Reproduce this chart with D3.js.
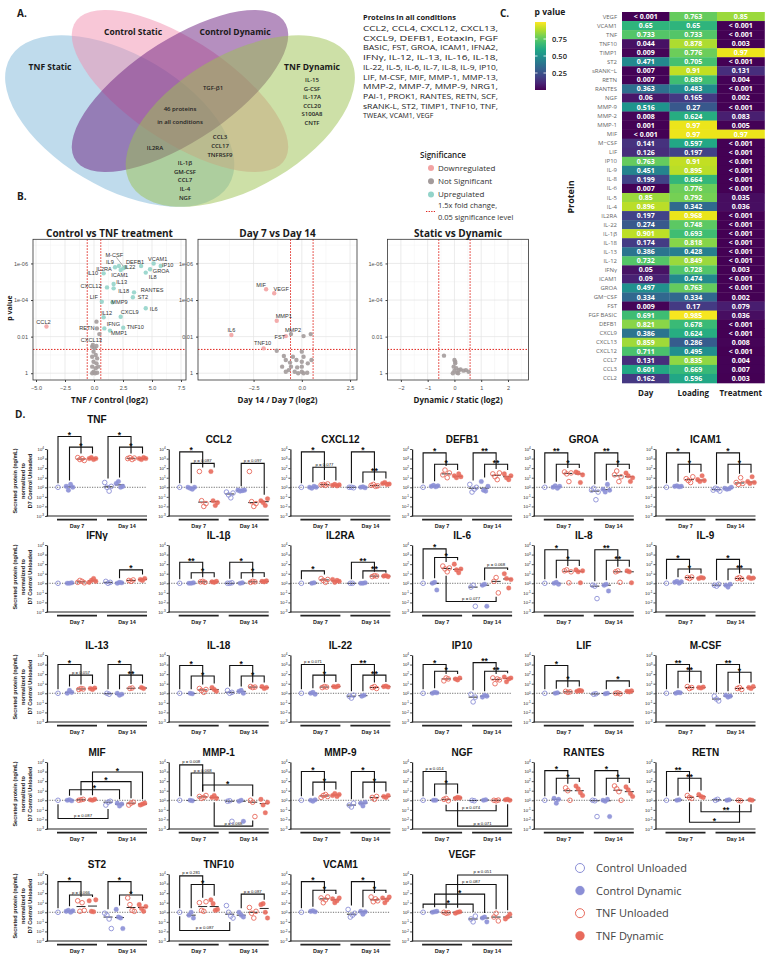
<!DOCTYPE html>
<html>
<head>
<meta charset="utf-8">
<script src="https://cdn.jsdelivr.net/npm/d3@7"></script>
<style>
body { margin: 0; background: #fff; }
text { font-family: "Open Sans", "Noto Sans", sans-serif; }
.arial text, text.arial { font-family: "Liberation Sans", Arial, sans-serif; }
</style>
</head>
<body>
<svg id="fig" width="780" height="973"></svg>
<script>
// ---------------- data ----------------
// A. venn
var vennSets = ["TNF Static", "Control Static", "Control Dynamic", "TNF Dynamic"];
var vennTnfDynOnly = ["IL-15", "G-CSF", "IL-17A", "CCL20", "S100A8", "CNTF"];
var vennTnfBoth = ["IL-1β", "GM-CSF", "CCL7", "IL-4", "NGF"];
var vennNotTnfStatic = ["CCL3", "CCL17", "TNFRSF9"];
var vennAllCount = 46;
var allConditionLines = ["CCL2, CCL4, CXCL12, CXCL13,", "CXCL9, DEFB1, Eotaxin, FGF",
  "BASIC, FST, GROA, ICAM1, IFNA2,", "IFNγ, IL-12, IL-13, IL-16, IL-18,",
  "IL-22, IL-5, IL-6, IL-7, IL-8, IL-9, IP10,", "LIF, M-CSF, MIF, MMP-1, MMP-13,",
  "MMP-2, MMP-7, MMP-9, NRG1,", "PAI-1, PROK1, RANTES, RETN, SCF,",
  "sRANK-L, ST2, TIMP1, TNF10, TNF,", "TWEAK, VCAM1, VEGF"];

// C. heatmap (0 = "< 0.001")
var hmProteins = ["VEGF","VCAM1","TNF","TNF10","TIMP1","ST2","sRANK\u2212L","RETN","RANTES","NGF",
  "MMP-9","MMP-2","MMP-1","MIF","M\u2212CSF","LIF","IP10","IL-9","IL-8","IL-6","IL-5","IL-4","IL2RA",
  "IL-22","IL-1β","IL-18","IL-13","IL-12","IFNγ","ICAM1","GROA","GM\u2212CSF","FST","FGF BASIC",
  "DEFB1","CXCL9","CXCL13","CXCL12","CCL7","CCL3","CCL2"];
var hmFactors = ["Day", "Loading", "Treatment"];
var hmDay = [0,0.65,0.733,0.044,0.009,0.471,0.007,0.007,0.363,0.06,0.516,0.008,0.001,0,0.141,0.126,
  0.763,0.451,0.199,0.007,0.85,0.896,0.197,0.274,0.901,0.174,0.386,0.732,0.05,0.09,0.497,0.334,0.009,
  0.691,0.821,0.386,0.859,0.711,0.131,0.601,0.162];
var hmLoading = [0.763,0.65,0.733,0.878,0.776,0.705,0.91,0.689,0.483,0.165,0.27,0.624,0.97,0.97,0.597,
  0.197,0.91,0.895,0.664,0.776,0.792,0.342,0.968,0.748,0.693,0.818,0.428,0.849,0.728,0.474,0.763,0.334,
  0.17,0.985,0.678,0.624,0.286,0.495,0.835,0.669,0.596];
var hmTreatment = [0.85,0,0,0.003,0.97,0,0.131,0.004,0,0.002,0,0.083,0.005,0.97,0,0,0,0,0,0,0.035,
  0.036,0,0,0,0,0,0,0.003,0,0,0.002,0.079,0.036,0,0,0.008,0,0.004,0.007,0.003];
var pLegendTicks = [0.25, 0.5, 0.75];

// B. volcano plots (log2 fold change, -log10 p)
var v1Names = ["CCL2","IL2RA","IL9","M-CSF","IL22","DEFB1","VCAM1","IP10","GROA","IL8","ICAM1","IL10",
  "IL13","CXCL12","IL18","RANTES","ST2","LIF","MMP9","IL6","CXCL9","IL12","","RETN","IFNG","TNF10",
  "MMP1","CXCL13"];
var v1FC = [-4.10,1.81,2.15,2.52,2.67,4.06,5.14,5.75,4.83,4.46,2.30,0.83,1.69,1.12,1.69,3.45,3.35,0.67,
  1.59,4.46,2.30,0.83,0.21,0.25,0.89,2.52,1.38,0.46,
  -0.16,0.05,0.21,-0.04,0.15,-0.16,0.27,-0.04,0.21,-0.16,0.15,-0.04,0.27,-0.16,0.09,0.36,-0.10];
var v1LogP = [2.55,5.79,5.86,5.74,5.79,5.86,6.0,5.86,5.68,5.5,5.64,5.46,4.88,4.69,4.64,4.42,4.15,3.91,
  3.88,3.55,3.09,3.06,2.82,2.45,2.45,2.49,2.33,2.14,
  1.45,1.36,1.49,1.18,1.0,0.9,0.81,0.63,0.54,0.36,0.27,0.08,0.03,0.0,0.0,0.36,1.54];
var v2Names = ["MIF","VEGF","MMP1","IL6","FST","MMP2","TNF10"];
var v2FC = [-1.85,-1.43,-1.30,-3.65,-0.83,-0.56,-1.98,-1.30,0.09,0.46,
  -0.93,-0.83,-0.61,-0.28,0,0.09,0,0.31,0.5,-0.56,-0.24,0,-0.68,-0.37,0,0.28,-0.83,0.09,-0.19,-1.02,-0.46];
var v2LogP = [4.59,4.37,2.87,2.09,2.03,2.14,1.36,1.23,2.03,2.14,
  0.94,0.72,0.58,0.72,1.18,0.9,0.63,0.54,0.72,0.36,0.32,0.36,0.17,0.08,0.08,0.03,0.08,0.0,0.0,0.36,0.9];
var v3FC = [-0.39,0.0,0.03,-0.03,0.07,0.0,0.1,-0.06,0.16,0.23,0.34,0.43,0.53,0.03,0.14];
var v3LogP = [0.96,0.72,0.54,0.36,0.27,0.14,0.03,0.0,0.17,0.2,0.14,0.17,0.08,0.63,0.0];
var sigLegend = ["Downregulated", "Not Significant", "Upregulated"];

// D. secreted proteins, log10 of value normalised to D7 control unloaded
// groups: D7 CU, CD, TU, TD, D14 CU, CD, TU, TD
var dGroups = ["Control Unloaded", "Control Dynamic", "TNF Unloaded", "TNF Dynamic"];
var dDays = ["Day 7", "Day 14"];
var dNames = ["TNF","CCL2","CXCL12","DEFB1","GROA","ICAM1",
  "IFNγ","IL-1β","IL2RA","IL-6","IL-8","IL-9",
  "IL-13","IL-18","IL-22","IP10","LIF","M-CSF",
  "MIF","MMP-1","MMP-9","NGF","RANTES","RETN",
  "ST2","TNF10","VCAM1","VEGF"];
var dVals = [
  [[0],[0.1,-0.3,0.3,0],[3.1,2.9,3.0,2.8],[3.0,3.1,2.9,3.0],[0.5,0,-0.4,0.1],[0.4,0.6,0,0.1],[3.0,3.1,2.9,3.05],[3.0,2.9,3.1,3.0]],
  [[0],[0,-0.1,-0.2,0],[1.65,-1.4,-2.0,-1.7],[1.65,-1.4,-1.9,-1.6],[-0.5,-0.8,-1.1,-0.6],[-0.3,-0.4,-0.35,-0.3],[1.65,-1.5,-2.0,-1.7],[-1.4,-1.6,-1.9,-1.2]],
  [[0],[0,-0.1,0.1,0],[0.25,0.3,0.2,0.35],[0.2,0.3,0.15,0.25],[0,0,-0.05],[0,0.05,-0.05],[0.2,0.3,0.1,0.15],[0.4,0.5,0.3,0.35]],
  [[0],[0.1,0.2,0.05,0.15],[1.3,1.8,1.0,1.5],[1.2,1.0,1.4,1.1],[0.3,-0.5,-0.2,0],[0.6,-0.3,-0.4,0.1],[1.4,1.1,0.8,1.5],[1.4,1.0,0.8,1.2]],
  [[0],[0,0.15,-0.1,0.1],[1.6,1.4,0.6,1.5],[1.6,1.5,0.5,1.3],[-0.3,-0.1,-1.3,-0.5],[-0.2,-0.5,0.3,-0.3],[1.3,1.7,0.6,1.1],[1.5,1.2,0.6,1.0]],
  [[0],[0.1,0.15,0.05,0.1],[0.9,0.7,0.5,1.1],[0.8,0.6,1.2,0.7],[-0.3,-0.1,-0.2,-0.4],[-0.1,-0.2,-0.15,0],[0.5,0.3,1.0,0.4],[0.6,0.4,1.1,0.5]],
  [[0],[0,0,0.05],[0.1,0.3,0.2,0.05],[0.1,0.3,0.5,0.2],[0.2,0,0.1],[0,0.1,0.05],[0.3,0.2,0.35],[0.4,0.3,0.5]],
  [[0],[0,0,0.05],[0.15,0.2,0.1],[0.15,0.1,0.2],[0,0,0.05],[0,0.05],[0.1,0.2,0.15],[0.2,0.15,0.25]],
  [[0],[0,0.05],[0.5,0.3,0.1,0.4],[0.4,0.1,0.3,0.2],[0,0],[0,0,0.05],[0.7,0.8,0.75],[0.75,0.8,0.7]],
  [[0],[0,0.1,-0.7],[1.8,1.5,1.2,1.6],[2.0,1.4,1.1,1.5],[-0.4,-0.2,-2.4],[-0.2,-0.1,-2.4],[0.2,0.6,-1.0],[1.0,0.5,-0.5,0.4]],
  [[0],[0,0.1,-0.1],[1.3,1.4,0.05,1.2],[1.4,1.2,0.05,1.3],[-0.2,-0.3,-1.6],[-0.2,-0.1,-0.8],[1.2,1.3,0.1],[1.3,1.2,0.05]],
  [[0],[0.1,0.2,0,0.15],[0.6,0.5,0.65],[0.5,0.6,0.55],[-0.2,-0.3,-0.1],[-0.2,-0.4,-0.1],[0.5,0.6,0.45],[0.6,0.5,0.55]],
  [[0],[0,0.3,0.1],[0.4,0.5,0.45],[0.5,0.4,0.55],[0,-0.1],[0,-0.2,-0.1],[0.5,0.55],[0.6,0.5]],
  [[0],[0,-0.05],[0.5,0.3,0.1,0.4],[0.6,0.4,0.2],[0.3,0,0.1],[0.2,0.3,0],[0.7,0.6,0.65],[0.7,0.5,0.6]],
  [[0],[0,0.1,-0.1],[0.6,0.7,0.65],[0.7,0.65,0.75],[-0.3,-0.5,-0.2],[-0.3,-0.2],[0.6,0.7,0.5],[0.7,0.75,0.65]],
  [[0],[0,0.1,0.05],[1.3,1.6,1.5],[1.5,1.4,1.6],[-0.1,-0.9,-0.4],[-0.4,-0.2,-0.3],[1.6,1.0,1.5,1.4],[1.7,1.2,1.5,1.6]],
  [[0],[0,0.05],[0.2,0.1,0.15],[0.2,0.3,0.25],[-0.1,-0.05],[-0.05,0],[0,0.05,-0.05],[0.2,0.15,0.25]],
  [[0],[0,0.1,0.05],[0.7,0.5,0.6],[0.6,0.55,0.65],[-0.3,-0.6,-0.8],[-0.2,-0.4,-0.3],[0.5,0.6,0.4],[0.6,0.5,0.7]],
  [[0],[0,0.05,-0.05],[0,0.05,0.1],[0.05,0,0.1],[-0.5,-0.2,-0.1],[-0.3,-0.6,-0.4],[-0.5,-0.3,-0.2],[-0.5,-0.4,-0.3]],
  [[0],[0,-0.05],[0.4,0.2,0.3,0.5],[0.3,0.5,0.2],[-0.1,-0.05,-2.2],[-0.1,0,-2.2],[0,-0.2,-1.7],[0.1,-0.5,-1.3,-0.2]],
  [[0],[0,-0.1,0.05],[0.3,0.5,0.6,0.4],[0.5,0.7,0.4,0.6],[-0.5,-0.7,-0.3],[-0.3,-0.6,-0.2],[0.3,0.1,0.4],[0.4,0.3,0.5]],
  [[0],[0,0],[0.1,0.2,-0.05],[0.2,0.3,0.25],[0,-0.05],[0,0.05],[0,-0.05,0.02],[0.05,0.1,0]],
  [[0],[0.2,-0.3,0.1],[1.3,1.0,0],[1.5,1.2,0.8,0.5],[0,-0.05,-1.7],[0,-0.1,0.1,-1.7],[1.5,1.2,0.9,0],[1.4,1.1,0.7,0.4]],
  [[0],[0,0.05],[0.5,0.3,0.2],[0.6,0.4,0.3],[0,0.1],[0,0.05],[0,-0.05],[0.05,0]],
  [[0],[0.1,0.2,0,0.15],[1.2,0.1,1.0,0.2],[1.2,0.1,0.05,1.3],[-0.1,-0.3,-0.7,-1.7],[0.3,-0.5,-0.6,-1.7],[1.5,0.8,0.2,0.1],[0.8,0.4,0.1,0.6]],
  [[0],[-0.3,0,-0.6],[1.0,0.2,0.1,1.1],[1.3,0.9,0.2,0.3],[0.7,0,-0.4,-0.6],[0,-0.3,-0.5],[0.5,-0.1,-0.6,0.1],[0.8,0.9,0,-0.6]],
  [[0],[0.1,0.15,0.05],[1.5,1.0,1.3,1.6],[1.4,1.0,1.2,1.5],[0.3,-0.5,-0.3,-0.1],[0.1,-0.2,0.05],[1.6,1.1,1.4,1.2],[1.5,1.0,1.3,1.6]],
  [[0],[0,0.05,0.1],[0,-0.1,-0.05],[-0.1,0,0.05],[-0.7,-1.0,-0.4],[-0.6,-0.5,-1.0],[-0.5,-0.1,-0.9],[-0.7,-0.5,-0.2]]
];
// brackets: [from group, to group, log10 level, label]; negative level = drawn below the data
var dBrackets = [
  [[0,2,5.3,"*"],[1,3,4.2,"*"],[4,6,5.3,"*"],[5,7,4.2,"*"]],
  [[0,2,3.7,"*"],[1,3,2.5,"p = 0.087"],[5,7,2.5,"p = 0.097"]],
  [[0,2,3.7,"*"],[1,3,2.1,"p = 0.077"],[4,6,3.7,"*"],[5,7,1.6,"**"]],
  [[0,2,3.6,"*"],[1,3,2.4,"*"],[4,6,3.6,"**"],[5,7,2.4,"**"]],
  [[0,2,3.6,"**"],[1,3,2.4,"*"],[4,6,3.6,"**"],[5,7,2.4,"*"]],
  [[0,2,3.6,"*"],[1,3,2.4,"*"],[4,6,3.6,"*"],[5,7,2.4,"*"]],
  [[5,7,1.4,"*"]],
  [[0,2,2.2,"**"],[1,3,1.1,"*"],[4,6,2.2,"*"],[5,7,1.1,"*"]],
  [[0,2,1.3,"*"],[4,6,2.2,"**"],[5,7,1.3,"**"]],
  [[0,2,3.6,"*"],[1,3,2.7,"*"],[5,7,1.6,"p = 0.068"],[2,6,-1.9,"p = 0.077"]],
  [[0,2,3.5,"*"],[1,3,2.4,"*"],[4,6,3.5,"**"],[5,7,2.4,"**"]],
  [[0,2,2.5,"*"],[1,3,1.5,"*"],[4,6,2.5,"*"],[5,7,1.5,"**"]],
  [[0,2,3.0,"*"],[1,3,1.9,"p = 0.057"],[4,6,3.0,"*"],[5,7,1.9,"**"]],
  [[0,2,2.9,"*"],[1,3,1.8,"*"],[4,6,2.9,"*"],[5,7,1.8,"*"]],
  [[0,2,3.0,"p = 0.071"],[1,3,1.9,"*"],[4,6,3.0,"**"],[5,7,1.9,"**"]],
  [[0,2,3.0,"*"],[1,3,2.3,"*"],[4,6,3.2,"**"],[5,7,2.3,"**"]],
  [[0,2,2.9,"*"],[1,3,1.3,"*"],[5,7,1.3,"*"]],
  [[0,2,3.0,"**"],[1,3,2.3,"**"],[4,6,3.0,"**"],[5,7,2.2,"*"]],
  [[1,5,1.1,"*"],[2,6,1.95,"*"],[3,7,2.95,"*"],[0,4,-1.9,"p = 0.087"]],
  [[0,2,3.7,"p = 0.008"],[1,3,2.85,"p = 0.068"],[2,6,1.6,"*"],[3,6,-2.7,"p = 0.068"]],
  [[0,2,3.0,"*"],[1,3,1.9,"*"],[4,6,3.0,"*"],[5,7,1.9,"*"]],
  [[0,2,3.0,"p = 0.014"],[1,3,1.7,"*"],[2,6,-1.1,"p = 0.074"],[3,7,-2.7,"p = 0.071"]],
  [[0,2,3.1,"*"],[1,3,2.3,"*"],[4,6,3.1,"*"],[5,7,2.3,"*"]],
  [[0,2,3.0,"**"],[1,3,2.3,"**"],[3,7,-1.2,"**"],[2,6,-2.3,"*"]],
  [[0,2,3.2,"*"],[1,3,1.8,"p = 0.066"],[4,6,3.2,"*"],[5,7,1.8,"*"]],
  [[0,2,3.8,"p = 0.281"],[1,3,2.9,"*"],[5,7,1.9,"p = 0.087"],[0,4,-1.9,"p = 0.087"]],
  [[0,2,3.2,"*"],[1,3,2.3,"*"],[4,6,3.2,"*"],[5,7,2.3,"*"]],
  [[0,4,0.85,"*"],[1,5,1.9,"*"],[2,6,2.9,"p = 0.087"],[3,7,3.9,"p = 0.051"]]
];

// ---------------- drawing ----------------
var svg = d3.select("#fig");

function label(txt, x, y, size, weight, anchor, fill) {
  return svg.append("text").attr("x", x).attr("y", y).attr("font-size", size)
    .attr("font-weight", weight || "normal").attr("text-anchor", anchor || "start")
    .attr("fill", fill || "#1a1a1a").text(txt);
}

label("A.", 17, 17, 10, "bold");
label("B.", 17, 200, 10, "bold");
label("C.", 500, 17, 10, "bold");
label("D.", 15, 418, 10, "bold");

// ---- A. venn (ellipse layout of a 4-set venn, unit square) ----
var vennColors = ["#7fb8d9", "#f190b0", "#6c1f80", "#9cc150"];
var ell = [[0.35,0.47,0.35,0.2,135],[0.5,0.57,0.35,0.15,135],[0.5,0.57,0.35,0.15,45],[0.65,0.47,0.35,0.2,45]];
var venn = svg.append("g").attr("transform", "translate(-21," + (10 + 0.839 * 301) + ") scale(402,-301)");
venn.selectAll("ellipse").data(ell).enter().append("ellipse")
  .attr("cx", function(d) { return d[0]; })
  .attr("cy", function(d) { return d[1]; })
  .attr("rx", function(d) { return d[2]; })
  .attr("ry", function(d) { return d[3]; })
  .attr("transform", function(d) { return "rotate(" + d[4] + " " + d[0] + " " + d[1] + ")"; })
  .attr("fill", function(d, i) { return vennColors[i]; })
  .attr("fill-opacity", 0.5);

var setPos = [[50, 70], [133, 35], [235, 35], [312, 70]];
vennSets.forEach(function(s, i) { label(s, setPos[i][0], setPos[i][1], 8.5, "bold", "middle"); });
function stack(list, x, y0, dy) {
  list.forEach(function(s, i) { label(s, x, y0 + i * dy, 6, 600, "middle", "#222"); });
}
stack(vennTnfDynOnly, 312, 82, 8.6);
stack(vennTnfBoth, 185, 165, 8.7);
stack(vennNotTnfStatic, 220, 139, 9);
stack(["TGF-β1"], 213, 90, 0);
stack(["IL2RA"], 155, 150, 0);
stack([vennAllCount + " proteins", "in all conditions"], 180, 111, 13);

label("Proteins in all conditions", 363, 20, 7.5, "bold");
allConditionLines.forEach(function(s, i) {
  var t = label(s, 363, 31 + i * 9.7, 7, "normal", "start", "#222");
  if (i < allConditionLines.length - 1) t.attr("textLength", 135).attr("lengthAdjust", "spacingAndGlyphs");
});

// ---- B. legend ----
var sigColors = { down: "#f2a3a3", ns: "#a39b9b", up: "#93d4ca" };
label("Significance", 420, 158, 8, 600, "start", "#222");
sigLegend.forEach(function(s, i) {
  svg.append("circle").attr("cx", 431).attr("cy", 168 + i * 13.2).attr("r", 3)
    .attr("fill", [sigColors.down, sigColors.ns, sigColors.up][i]);
  label(s, 438, 171 + i * 13.2, 8, "normal", "start", "#333");
});
svg.append("line").attr("x1", 426).attr("x2", 435).attr("y1", 211.5).attr("y2", 211.5)
  .attr("stroke", "#e0261f").attr("stroke-width", 1.2).attr("stroke-dasharray", "1.3,1.3");
label("1.5x fold change,", 438, 207.5, 7.5, "normal", "start", "#333");
label("0.05 significance level", 438, 220, 7.5, "normal", "start", "#333");

// ---- B. volcano plots ----
var fcCut = Math.log2(1.5), pCut = -Math.log10(0.05);
var vTop = 239.3, vBot = 380;
function volcano(o) {
  var x = d3.scaleLinear().domain(o.xd).range([o.x0, o.x1]);
  var y = d3.scaleLinear().domain([-0.37, 7.32]).range([vBot, vTop]);
  var g = svg.append("g").attr("class", "arial");
  var majors = o.ticks, minors = [];
  for (var i = 0; i < majors.length - 1; i++) minors.push((majors[i] + majors[i + 1]) / 2);
  minors.push(majors[0] - (majors[1] - majors[0]) / 2, majors[majors.length - 1] + (majors[1] - majors[0]) / 2);
  g.selectAll(".gxm").data(minors.filter(function(v) { return v > o.xd[0] && v < o.xd[1]; })).enter().append("line")
    .attr("x1", x).attr("x2", x).attr("y1", vTop).attr("y2", vBot).attr("stroke", "#f0f0f0").attr("stroke-width", 0.5);
  g.selectAll(".gym").data([1, 3, 5, 7]).enter().append("line")
    .attr("x1", o.x0).attr("x2", o.x1).attr("y1", y).attr("y2", y).attr("stroke", "#f0f0f0").attr("stroke-width", 0.5);
  g.selectAll(".gx").data(majors).enter().append("line")
    .attr("x1", x).attr("x2", x).attr("y1", vTop).attr("y2", vBot).attr("stroke", "#e3e3e3").attr("stroke-width", 0.7);
  g.selectAll(".gy").data([0, 2, 4, 6]).enter().append("line")
    .attr("x1", o.x0).attr("x2", o.x1).attr("y1", y).attr("y2", y).attr("stroke", "#e3e3e3").attr("stroke-width", 0.7);

  var ax = g.append("g").attr("transform", "translate(0," + vBot + ")")
    .call(d3.axisBottom(x).tickValues(majors).tickSize(2).tickFormat(o.fmt));
  var ay = g.append("g").attr("transform", "translate(" + o.x0 + ",0)")
    .call(d3.axisLeft(y).tickValues([0, 2, 4, 6]).tickSize(2)
      .tickFormat(function(v) { return ["1", "0.01", "1e-04", "1e-06"][v / 2]; }));
  [ax, ay].forEach(function(a) {
    a.select(".domain").remove();
    a.selectAll(".tick line").attr("stroke", "#444");
    a.selectAll(".tick text").attr("font-size", 5.5).attr("fill", "#4d4d4d");
  });
  ax.selectAll(".tick text").attr("dy", "0.9em");

  var red = { stroke: "#e0261f", w: 1, dash: "1.5,1.5" };
  [-fcCut, fcCut].forEach(function(v) {
    g.append("line").attr("x1", x(v)).attr("x2", x(v)).attr("y1", vTop).attr("y2", vBot)
      .attr("stroke", red.stroke).attr("stroke-width", red.w).attr("stroke-dasharray", red.dash);
  });
  g.append("line").attr("x1", o.x0).attr("x2", o.x1).attr("y1", y(pCut)).attr("y2", y(pCut))
    .attr("stroke", red.stroke).attr("stroke-width", red.w).attr("stroke-dasharray", red.dash);

  var pts = o.fc.map(function(f, i) {
    var lp = Math.max(o.lp[i], 0), cls = "ns";
    if (lp > pCut && f > fcCut) cls = "up";
    if (lp > pCut && f < -fcCut) cls = "down";
    return { fc: f, lp: lp, cls: cls, name: (o.names || [])[i] || "" };
  });
  g.selectAll(".pt").data(pts).enter().append("circle")
    .attr("cx", function(d) { return x(d.fc); }).attr("cy", function(d) { return y(d.lp); })
    .attr("r", 2.2).attr("fill", function(d) { return sigColors[d.cls]; }).attr("fill-opacity", 0.9);
  pts.filter(function(d) { return d.name; }).forEach(function(d) {
    var n = o.nudge[d.name] || [0, -5];
    var px = x(d.fc), py = y(d.lp);
    if (n[2]) g.append("line").attr("x1", px).attr("y1", py - 2).attr("x2", px + n[0] + 2).attr("y2", py + n[1] + 2)
      .attr("stroke", "#555").attr("stroke-width", 0.5);
    g.append("text").attr("x", px + n[0]).attr("y", py + n[1] + 2).attr("text-anchor", "middle")
      .attr("font-size", 5.6).attr("fill", "#333").text(d.name);
  });
  g.append("rect").attr("x", o.x0).attr("y", vTop).attr("width", o.x1 - o.x0).attr("height", vBot - vTop)
    .attr("fill", "none").attr("stroke", "#333").attr("stroke-width", 0.8);
  label(o.title, (o.x0 + o.x1) / 2, 236.5, 10, "bold", "middle");
  label(o.xlab, (o.x0 + o.x1) / 2, 403, 8, "bold", "middle");
}
volcano({ x0: 33, x1: 186, xd: [-5.26, 7.93], ticks: [-5, -2.5, 0, 2.5, 5, 7.5], fmt: d3.format(".1f"),
  fc: v1FC, lp: v1LogP, names: v1Names, title: "Control vs TNF treatment", xlab: "TNF / Control (log2)",
  nudge: { CCL2: [-3, -5], "M-CSF": [-9, -13, 1], IL9: [-9, -4], IL2RA: [-11, 2], IL22: [5, 0], DEFB1: [-6, -4],
    VCAM1: [4, -4.5], IP10: [7, -1], GROA: [11, 1.5], IL8: [7, 4.5], ICAM1: [-1, 5], IL10: [-11, 0],
    IL13: [8, -2], CXCL12: [-16, -1], IL18: [10, 2.5], RANTES: [18, -2], ST2: [10, 0], LIF: [-8, -5],
    MMP9: [7, 0], IL6: [8, 1], CXCL9: [9, -5], IL12: [3, -4.5], RETN: [-10, 0], IFNG: [9, -4.5],
    TNF10: [12, -1], MMP1: [9, 2], CXCL13: [-8, 5.5] } });
volcano({ x0: 198, x1: 357, xd: [-5.38, 2.86], ticks: [-2.5, 0, 2.5], fmt: d3.format(".1f"),
  fc: v2FC, lp: v2LogP, names: v2Names, title: "Day 7 vs Day 14", xlab: "Day 14 / Day 7 (log2)",
  nudge: { MIF: [-5, -4.5], VEGF: [7, -4], MMP1: [7, -5], IL6: [0, -5], MMP2: [2, -4.5], FST: [-6, 1], TNF10: [-1, -5] } });
volcano({ x0: 387.5, x1: 528.6, xd: [-2.5, 2.77], ticks: [-2, -1, 0, 1, 2], fmt: d3.format("d"),
  fc: v3FC, lp: v3LogP, names: [], title: "Static vs Dynamic", xlab: "Dynamic / Static (log2)", nudge: {} });
label("p value", 0, 0, 7, "bold", "middle").attr("transform", "translate(12,308) rotate(-90)");

// ---- C. heatmap ----
var hmCols = d3.scaleBand().domain(hmFactors).range([622, 764.5]);
var hmRows = d3.scaleBand().domain(hmProteins).range([12, 383]);
var hmData = [hmDay, hmLoading, hmTreatment];
var hm = svg.append("g");
hmFactors.forEach(function(f, c) {
  hm.selectAll(".c" + c).data(hmProteins).enter().append("rect")
    .attr("x", hmCols(f)).attr("y", function(d) { return hmRows(d); })
    .attr("width", hmCols.bandwidth() + 0.3).attr("height", hmRows.bandwidth() + 0.3)
    .attr("fill", function(d, i) { return d3.interpolateViridis(hmData[c][i]); });
  hm.selectAll(".t" + c).data(hmProteins).enter().append("text")
    .attr("x", hmCols(f) + hmCols.bandwidth() / 2)
    .attr("y", function(d) { return hmRows(d) + hmRows.bandwidth() / 2 + 2.5; })
    .attr("text-anchor", "middle").attr("font-size", 7).attr("font-weight", "bold").attr("fill", "#fff")
    .text(function(d, i) { var p = hmData[c][i]; return p === 0 ? "< 0.001" : String(p); });
  label(f, hmCols(f) + hmCols.bandwidth() / 2, 396, 8, "bold", "middle");
});
hm.selectAll(".rl").data(hmProteins).enter().append("text")
  .attr("x", 617).attr("y", function(d) { return hmRows(d) + hmRows.bandwidth() / 2 + 2; })
  .attr("text-anchor", "end").attr("font-size", 6).attr("fill", "#666").text(function(d) { return d; });
label("Protein", 0, 0, 9, "bold", "middle").attr("transform", "translate(574,197) rotate(-90)");

// colour bar
var grad = svg.append("defs").append("linearGradient").attr("id", "vir")
  .attr("x1", 0).attr("y1", 1).attr("x2", 0).attr("y2", 0);
d3.range(0, 1.01, 0.1).forEach(function(t) {
  grad.append("stop").attr("offset", t).attr("stop-color", d3.interpolateViridis(t));
});
var pY = d3.scaleLinear().domain([0, 1]).range([90, 22]);
svg.append("rect").attr("x", 535).attr("y", pY(1)).attr("width", 11).attr("height", pY(0) - pY(1)).attr("fill", "url(#vir)");
pLegendTicks.forEach(function(t) {
  [[535, 537.5], [543.5, 546]].forEach(function(s) {
    svg.append("line").attr("x1", s[0]).attr("x2", s[1]).attr("y1", pY(t)).attr("y2", pY(t)).attr("stroke", "#fff").attr("stroke-width", 0.8);
  });
  label(d3.format(".2f")(t), 552, pY(t) + 2.8, 7.5, 600, "start", "#222");
});
label("p value", 550, 15, 8.5, "bold", "middle");

// ---- D. dot plots ----
var dColors = ["#8b8fd6", "#8b8fd6", "#e86a5c", "#e86a5c"];
var dFilled = [false, true, false, true];
var dRowBase = [516, 612, 722, 829, 941];
var groupPos = [0, 1, 2, 3, 4.35, 5.35, 6.35, 7.35];
var xs = d3.scaleLinear().domain([-0.957, 7.74]).range([0, 100]);
var decades = d3.range(-3, 5);

dNames.forEach(function(name, k) {
  var col = k % 6, row = Math.floor(k / 6);
  var ax = 47 + col * 121.7, base = dRowBase[row];
  var y = d3.scaleLog().domain([1e-3, 1e4]).range([base, base - 67]);
  var yv = function(v) { return y(Math.pow(10, v)); };
  var gx = function(i) { return ax + xs(groupPos[i]); };
  var g = svg.append("g").attr("class", "arial");
  var vals = dVals[k];

  g.append("line").attr("x1", ax).attr("x2", ax + 100).attr("y1", y(1)).attr("y2", y(1))
    .attr("stroke", "#333").attr("stroke-width", 0.7).attr("stroke-dasharray", "1.2,1.3");

  var ya = g.append("g").attr("transform", "translate(" + ax + ",0)")
    .call(d3.axisLeft(y).tickValues(decades.map(function(e) { return Math.pow(10, e); }))
      .tickSize(2).tickSizeOuter(0).tickFormat(function() { return ""; }));
  ya.select(".domain").attr("stroke", "#222").attr("stroke-width", 1.2);
  ya.selectAll(".tick line").attr("stroke", "#222").attr("stroke-width", 0.8);
  ya.selectAll(".tick text").each(function(d) {
    var t = d3.select(this).attr("font-size", 4.2).attr("fill", "#222").attr("x", -3);
    t.append("tspan").text("10");
    t.append("tspan").attr("dy", -1.6).attr("font-size", 3.1).text(Math.round(Math.log10(d)));
  });
  g.append("line").attr("x1", ax - 0.6).attr("x2", ax + 100).attr("y1", base).attr("y2", base)
    .attr("stroke", "#222").attr("stroke-width", 1.2);
  [[10, 50], [60, 100]].forEach(function(r, di) {
    g.append("line").attr("x1", ax + r[0]).attr("x2", ax + r[1]).attr("y1", base + 3.6).attr("y2", base + 3.6)
      .attr("stroke", "#222").attr("stroke-width", 1.8);
    g.append("text").attr("x", ax + (r[0] + r[1]) / 2).attr("y", base + 12).attr("text-anchor", "middle")
      .attr("font-size", 5.5).attr("font-weight", "bold").attr("fill", "#222").text(dDays[di]);
  });

  // brackets
  dBrackets[k].forEach(function(b) {
    var yl = yv(b[2]), x1 = gx(b[0]), x2 = gx(b[1]), down = b[2] < 0;
    var leg = function(gi) {
      if (down) return Math.min(yl - 2, yv(d3.min(vals[gi])) + 4);
      return Math.max(yl + 2, yv(d3.max(vals[gi])) - 4);
    };
    g.append("path").attr("d", "M" + x1 + "," + leg(b[0]) + "V" + yl + "H" + x2 + "V" + leg(b[1]))
      .attr("fill", "none").attr("stroke", "#111").attr("stroke-width", 1.1);
    var star = b[3].charAt(0) === "*";
    g.append("text").attr("x", (x1 + x2) / 2).attr("y", star ? yl + 1.6 : yl - 1.5)
      .attr("text-anchor", "middle").attr("font-size", star ? 8.5 : 4.3)
      .attr("font-weight", star ? "bold" : "normal").attr("fill", "#111").text(b[3]);
  });

  // points and medians
  vals.forEach(function(arr, gi) {
    var n = arr.length, c = dColors[gi % 4], filled = dFilled[gi % 4];
    if (n > 1) {
      var m = d3.median(arr);
      g.append("line").attr("x1", gx(gi) - 4.5).attr("x2", gx(gi) + 4.5).attr("y1", yv(m)).attr("y2", yv(m))
        .attr("stroke", "#111").attr("stroke-width", 0.9);
    }
    g.selectAll(".p" + gi).data(arr).enter().append("circle")
      .attr("cx", function(v, j) { return gx(gi) + (j - (n - 1) / 2) * 2.2; })
      .attr("cy", yv)
      .attr("r", 2.3)
      .attr("fill", filled ? c : "none").attr("fill-opacity", 0.9)
      .attr("stroke", c).attr("stroke-width", filled ? 0.3 : 0.9);
  });

  var top = d3.max(dBrackets[k], function(b) { return b[2]; });
  var lift = top > 4.5 ? 20 : top >= 3.85 ? 10 : 0;
  g.append("text").attr("x", ax + 50).attr("y", base - 73 - lift).attr("text-anchor", "middle")
    .attr("font-size", 10).attr("font-weight", "bold").attr("fill", "#111").text(name);

  if (col === 0) {
    ["Secreted protein (ng/mL)", "normalized to", "D7 Control Unloaded"].forEach(function(s, i) {
      g.append("text").attr("transform", "translate(" + (17 + i * 7.5) + "," + (base - 35) + ") rotate(-90)")
        .attr("text-anchor", "middle").attr("font-size", 5.5).attr("font-weight", "bold").attr("fill", "#222").text(s);
    });
  }
});

// legend for D
dGroups.forEach(function(s, i) {
  svg.append("circle").attr("cx", 580).attr("cy", 868 + i * 22.6).attr("r", 4.5)
    .attr("fill", dFilled[i] ? dColors[i] : "#fff").attr("stroke", dColors[i]).attr("stroke-width", dFilled[i] ? 0.3 : 1);
  label(s, 596, 872 + i * 22.6, 11, "normal", "start", "#444");
});
</script>
</body>
</html>
